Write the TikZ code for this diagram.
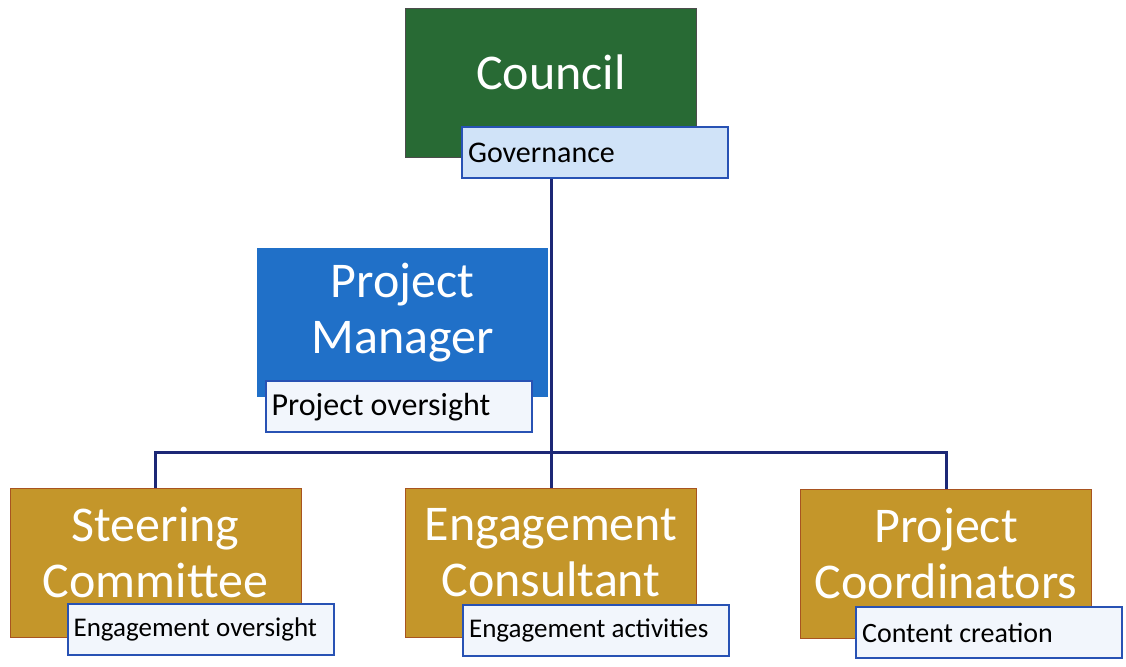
\documentclass[tikz,border=0pt]{standalone}
\usepackage{fontspec}
\setmainfont{Carlito}
\usetikzlibrary{positioning,backgrounds}
\definecolor{councilgreen}{RGB}{40,106,52}
\definecolor{managerblue}{RGB}{32,112,200}
\definecolor{teamgold}{RGB}{196,150,42}
\definecolor{goldedge}{RGB}{168,84,32}
\definecolor{tagblue}{RGB}{40,82,180}
\definecolor{tagfill}{RGB}{242,246,252}
\definecolor{govfill}{RGB}{208,227,248}
\definecolor{wirenavy}{RGB}{28,40,118}

\begin{document}
\begin{tikzpicture}[x=1pt, y=-1pt,
    unit/.style={rectangle, minimum width=291pt, minimum height=149pt, line width=0.8pt},
    unittext/.style={text=white, align=center, font=\fontsize{50}{56}\selectfont},
    tag/.style={rectangle, draw=tagblue, line width=2pt, fill=tagfill, anchor=north west,
        minimum height=51pt, text width=254pt, inner xsep=6pt, align=flush left, font=\fontsize{27}{30}\selectfont},
    wire/.style={draw=wirenavy, line width=3pt}
]
\useasboundingbox (0,0) rectangle (1126,666);

% Council
\node[unit, fill=councilgreen, draw=black!70] (council) at (551,82.5) {};
\node[unittext] (councilt) at ([yshift=10pt]council.center) {Council};
\node[tag, fill=govfill, font=\fontsize{30}{33}\selectfont] (gov) at ([xshift=56pt,yshift=31pt]council.south west) {Governance};

% Project manager
\node[unit, fill=managerblue] (pm) at (402.5,322.5) {};
\node[unittext] (pmt) at ([yshift=10pt]pm.center) {Project\\Manager};
\node[tag, font=\fontsize{32}{35}\selectfont] (po) at ([xshift=8pt,yshift=17pt]pm.south west) {Project oversight};

% Bottom row
\node[unit, fill=teamgold, draw=goldedge] (sc) at (155.5,562.5) {};
\node[unittext] (sctt) at ([yshift=10pt]sc.center) {Steering\\Committee};
\node[tag] (sct) at ([xshift=57pt,yshift=34pt]sc.south west) {Engagement oversight};

\node[unit, fill=teamgold, draw=goldedge] (ec) at (551,563) {};
\node[unittext] (ectt) at ([yshift=10pt]ec.center) {Engagement\\Consultant};
\node[tag] (ect) at ([xshift=57pt,yshift=34pt]ec.south west) {Engagement activities};

\node[unit, fill=teamgold, draw=goldedge] (pc) at (946,563.5) {};
\node[unittext] (pctt) at ([yshift=10pt]pc.center) {Project\\Coordinators};
\node[tag, font=\fontsize{28}{31}\selectfont] (pct) at ([xshift=55pt,yshift=32pt]pc.south west) {Content creation};

% Connectors
\coordinate (bar) at (551,452);
\begin{scope}[on background layer]
\draw[wire] (council) -- (ec);
\draw[wire] (sc.north) -- (sc.north |- bar) -- (pc.north |- bar) -- (pc.north);
\end{scope}

\end{tikzpicture}
\end{document}
